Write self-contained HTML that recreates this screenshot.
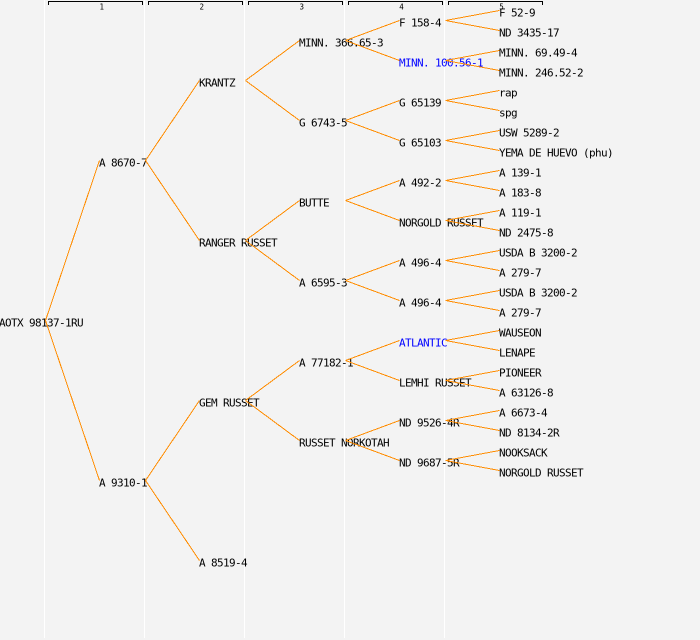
<!DOCTYPE html>
<html>
<head>
<meta charset="utf-8">
<style>
html,body{margin:0;padding:0;background:#f3f3f3;}
svg{display:block;}
.t{font-family:"DejaVu Sans Mono","Liberation Mono",monospace;font-size:11px;letter-spacing:-0.62px;fill:#000;}
.b{fill:#0000ff;}
.n{font-family:"DejaVu Sans Mono","Liberation Mono",monospace;font-size:7.5px;fill:#000;text-anchor:middle;}
.l{stroke:#ff8c00;stroke-width:1;fill:none;}
</style>
</head>
<body>
<svg width="700" height="640" viewBox="0 0 700 640" xmlns="http://www.w3.org/2000/svg">
<rect x="0" y="0" width="700" height="640" fill="#f3f3f3"/>
<g fill="#ffffff" shape-rendering="crispEdges">
<rect x="44" y="0" width="1" height="638"/>
<rect x="144" y="0" width="1" height="638"/>
<rect x="244" y="0" width="1" height="638"/>
<rect x="344" y="0" width="1" height="638"/>
<rect x="444" y="0" width="1" height="638"/>
</g>
<g stroke="#000" stroke-width="1" fill="none" shape-rendering="crispEdges">
<path d="M48.5,5 V1.5 H142.5 V5"/>
<path d="M148.5,5 V1.5 H242.5 V5"/>
<path d="M248.5,5 V1.5 H342.5 V5"/>
<path d="M348.5,5 V1.5 H442.5 V5"/>
<path d="M448.5,5 V1.5 H542.5 V5"/>
</g>
<text class="n" x="101.8" y="9.5">1</text>
<text class="n" x="201.8" y="9.5">2</text>
<text class="n" x="301.8" y="9.5">3</text>
<text class="n" x="401.5" y="9.5">4</text>
<text class="n" x="501.5" y="9.5">5</text>

<!-- labels -->
<g class="t">
<text x="-1" y="326.5">AOTX 98137-1RU</text>
<text x="99" y="166.5">A 8670-7</text>
<text x="99" y="486.5">A 9310-1</text>
<text x="199" y="86.5">KRANTZ</text>
<text x="199" y="246.5">RANGER RUSSET</text>
<text x="199" y="406.5">GEM RUSSET</text>
<text x="199" y="566.5">A 8519-4</text>
<text x="299" y="46.5">MINN. 366.65-3</text>
<text x="299" y="126.5">G 6743-5</text>
<text x="299" y="206.5">BUTTE</text>
<text x="299" y="286.5">A 6595-3</text>
<text x="299" y="366.5">A 77182-1</text>
<text x="299" y="446.5">RUSSET NORKOTAH</text>
<text x="399" y="26.5">F 158-4</text>
<text x="399" y="66.5" class="b">MINN. 100.56-1</text>
<text x="399" y="106.5">G 65139</text>
<text x="399" y="146.5">G 65103</text>
<text x="399" y="186.5">A 492-2</text>
<text x="399" y="226.5">NORGOLD RUSSET</text>
<text x="399" y="266.5">A 496-4</text>
<text x="399" y="306.5">A 496-4</text>
<text x="399" y="346.5" class="b">ATLANTIC</text>
<text x="399" y="386.5">LEMHI RUSSET</text>
<text x="399" y="426.5">ND 9526-4R</text>
<text x="399" y="466.5">ND 9687-5R</text>
<text x="499" y="16.5">F 52-9</text>
<text x="499" y="36.5">ND 3435-17</text>
<text x="499" y="56.5">MINN. 69.49-4</text>
<text x="499" y="76.5">MINN. 246.52-2</text>
<text x="499" y="96.5">rap</text>
<text x="499" y="116.5">spg</text>
<text x="499" y="136.5">USW 5289-2</text>
<text x="499" y="156.5">YEMA DE HUEVO (phu)</text>
<text x="499" y="176.5">A 139-1</text>
<text x="499" y="196.5">A 183-8</text>
<text x="499" y="216.5">A 119-1</text>
<text x="499" y="236.5">ND 2475-8</text>
<text x="499" y="256.5">USDA B 3200-2</text>
<text x="499" y="276.5">A 279-7</text>
<text x="499" y="296.5">USDA B 3200-2</text>
<text x="499" y="316.5">A 279-7</text>
<text x="499" y="336.5">WAUSEON</text>
<text x="499" y="356.5">LENAPE</text>
<text x="499" y="376.5">PIONEER</text>
<text x="499" y="396.5">A 63126-8</text>
<text x="499" y="416.5">A 6673-4</text>
<text x="499" y="436.5">ND 8134-2R</text>
<text x="499" y="456.5">NOOKSACK</text>
<text x="499" y="476.5">NORGOLD RUSSET</text>
</g>

<!-- connectors -->
<g class="l" shape-rendering="crispEdges">
<!-- root -->
<line x1="45.5" y1="320.5" x2="99.5" y2="160.5"/>
<line x1="45.5" y1="320.5" x2="99.5" y2="480.5"/>
<!-- depth 1 -->
<line x1="145.5" y1="160.5" x2="199.5" y2="80.5"/>
<line x1="145.5" y1="160.5" x2="199.5" y2="240.5"/>
<line x1="145.5" y1="480.5" x2="199.5" y2="400.5"/>
<line x1="145.5" y1="480.5" x2="199.5" y2="560.5"/>
<!-- depth 2 -->
<line x1="245.5" y1="80.5" x2="299.5" y2="40.5"/>
<line x1="245.5" y1="80.5" x2="299.5" y2="120.5"/>
<line x1="245.5" y1="240.5" x2="299.5" y2="200.5"/>
<line x1="245.5" y1="240.5" x2="299.5" y2="280.5"/>
<line x1="245.5" y1="400.5" x2="299.5" y2="360.5"/>
<line x1="245.5" y1="400.5" x2="299.5" y2="440.5"/>
<!-- depth 3 -->
<line x1="345.5" y1="40.5" x2="399.5" y2="20.5"/>
<line x1="345.5" y1="40.5" x2="399.5" y2="60.5"/>
<line x1="345.5" y1="120.5" x2="399.5" y2="100.5"/>
<line x1="345.5" y1="120.5" x2="399.5" y2="140.5"/>
<line x1="345.5" y1="200.5" x2="399.5" y2="180.5"/>
<line x1="345.5" y1="200.5" x2="399.5" y2="220.5"/>
<line x1="345.5" y1="280.5" x2="399.5" y2="260.5"/>
<line x1="345.5" y1="280.5" x2="399.5" y2="300.5"/>
<line x1="345.5" y1="360.5" x2="399.5" y2="340.5"/>
<line x1="345.5" y1="360.5" x2="399.5" y2="380.5"/>
<line x1="345.5" y1="440.5" x2="399.5" y2="420.5"/>
<line x1="345.5" y1="440.5" x2="399.5" y2="460.5"/>
<!-- depth 4 -->
<line x1="445.5" y1="20.5" x2="499.5" y2="10.5"/>
<line x1="445.5" y1="20.5" x2="499.5" y2="30.5"/>
<line x1="445.5" y1="60.5" x2="499.5" y2="50.5"/>
<line x1="445.5" y1="60.5" x2="499.5" y2="70.5"/>
<line x1="445.5" y1="100.5" x2="499.5" y2="90.5"/>
<line x1="445.5" y1="100.5" x2="499.5" y2="110.5"/>
<line x1="445.5" y1="140.5" x2="499.5" y2="130.5"/>
<line x1="445.5" y1="140.5" x2="499.5" y2="150.5"/>
<line x1="445.5" y1="180.5" x2="499.5" y2="170.5"/>
<line x1="445.5" y1="180.5" x2="499.5" y2="190.5"/>
<line x1="445.5" y1="220.5" x2="499.5" y2="210.5"/>
<line x1="445.5" y1="220.5" x2="499.5" y2="230.5"/>
<line x1="445.5" y1="260.5" x2="499.5" y2="250.5"/>
<line x1="445.5" y1="260.5" x2="499.5" y2="270.5"/>
<line x1="445.5" y1="300.5" x2="499.5" y2="290.5"/>
<line x1="445.5" y1="300.5" x2="499.5" y2="310.5"/>
<line x1="445.5" y1="340.5" x2="499.5" y2="330.5"/>
<line x1="445.5" y1="340.5" x2="499.5" y2="350.5"/>
<line x1="445.5" y1="380.5" x2="499.5" y2="370.5"/>
<line x1="445.5" y1="380.5" x2="499.5" y2="390.5"/>
<line x1="445.5" y1="420.5" x2="499.5" y2="410.5"/>
<line x1="445.5" y1="420.5" x2="499.5" y2="430.5"/>
<line x1="445.5" y1="460.5" x2="499.5" y2="450.5"/>
<line x1="445.5" y1="460.5" x2="499.5" y2="470.5"/>
</g>
</svg>
</body>
</html>
